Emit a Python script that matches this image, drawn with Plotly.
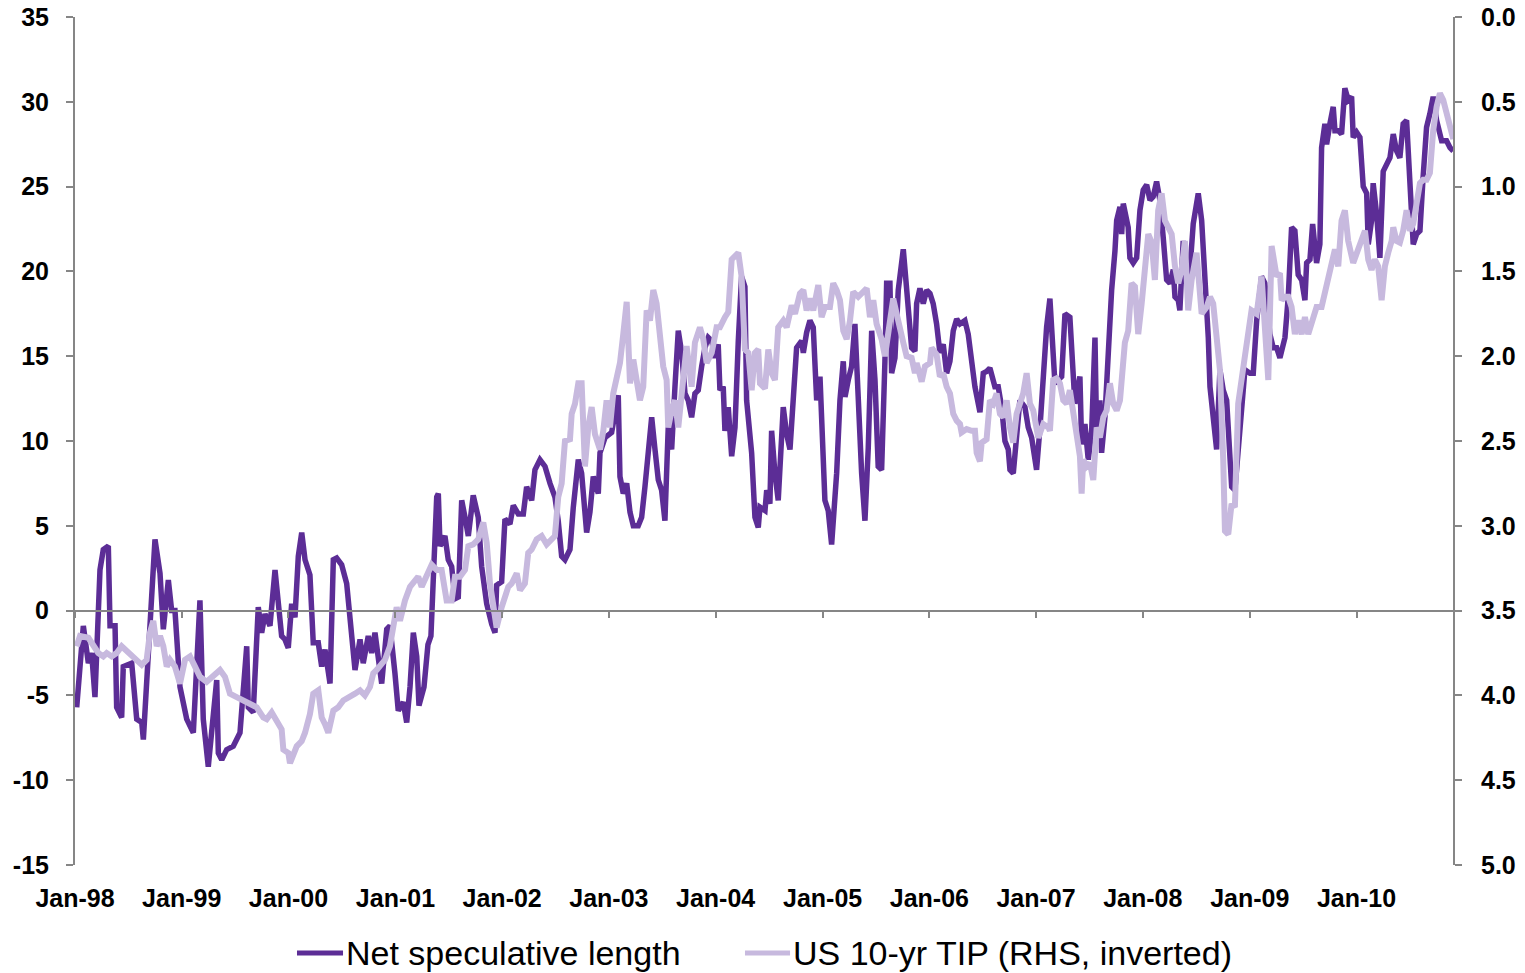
import numpy as np
import pandas as pd
import plotly.graph_objects as go

# years elapsed since Jan-98 for each reading
dark_t = [
    0.016, 0.078, 0.125, 0.156, 0.187, 0.234, 0.265, 0.312, 0.328, 0.375,
    0.390, 0.437, 0.452, 0.531, 0.578, 0.625, 0.640, 0.686, 0.749, 0.796,
    0.827, 0.874, 0.905, 0.936, 0.983, 1.046, 1.108, 1.170, 1.201, 1.248,
    1.280, 1.327, 1.342, 1.374, 1.420, 1.482, 1.545, 1.608, 1.623, 1.669,
    1.716, 1.748, 1.779, 1.826, 1.873, 1.935, 1.966, 1.997, 2.029, 2.060,
    2.091, 2.123, 2.154, 2.200, 2.231, 2.278, 2.310, 2.341, 2.388, 2.419,
    2.450, 2.497, 2.544, 2.622, 2.669, 2.699, 2.746, 2.778, 2.809, 2.872,
    2.919, 2.949, 2.996, 3.027, 3.074, 3.106, 3.137, 3.168, 3.200, 3.221,
    3.268, 3.305, 3.333, 3.355, 3.387, 3.402, 3.418, 3.464, 3.495, 3.527,
    3.558, 3.589, 3.621, 3.652, 3.683, 3.729, 3.776, 3.808, 3.855, 3.902,
    3.933, 3.948, 3.995, 4.026, 4.073, 4.104, 4.151, 4.198, 4.229, 4.276,
    4.307, 4.354, 4.401, 4.448, 4.494, 4.525, 4.557, 4.588, 4.635, 4.666,
    4.713, 4.744, 4.791, 4.822, 4.853, 4.900, 4.916, 4.963, 5.025, 5.087,
    5.103, 5.134, 5.166, 5.197, 5.228, 5.274, 5.306, 5.337, 5.368, 5.400,
    5.431, 5.462, 5.493, 5.524, 5.555, 5.587, 5.618, 5.649, 5.681, 5.712,
    5.742, 5.774, 5.805, 5.836, 5.868, 5.899, 5.930, 5.962, 5.993, 6.023,
    6.039, 6.070, 6.086, 6.117, 6.149, 6.180, 6.211, 6.242, 6.273, 6.289,
    6.336, 6.367, 6.398, 6.414, 6.461, 6.477, 6.507, 6.523, 6.554, 6.585,
    6.632, 6.664, 6.695, 6.726, 6.757, 6.804, 6.820, 6.851, 6.882, 6.913,
    6.945, 6.976, 6.991, 7.022, 7.053, 7.085, 7.132, 7.163, 7.194, 7.210,
    7.241, 7.272, 7.303, 7.334, 7.366, 7.397, 7.428, 7.460, 7.491, 7.521,
    7.553, 7.584, 7.600, 7.631, 7.647, 7.678, 7.709, 7.756, 7.787, 7.834,
    7.865, 7.881, 7.912, 7.943, 7.975, 8.006, 8.036, 8.068, 8.099, 8.130,
    8.162, 8.193, 8.224, 8.256, 8.287, 8.333, 8.364, 8.396, 8.427, 8.474,
    8.505, 8.536, 8.567, 8.614, 8.645, 8.677, 8.708, 8.739, 8.755, 8.786,
    8.817, 8.848, 8.895, 8.926, 8.958, 9.004, 9.036, 9.067, 9.098, 9.129,
    9.160, 9.176, 9.207, 9.239, 9.270, 9.316, 9.363, 9.410, 9.426, 9.457,
    9.488, 9.520, 9.551, 9.567, 9.597, 9.613, 9.644, 9.675, 9.707, 9.738,
    9.754, 9.785, 9.801, 9.816, 9.862, 9.878, 9.909, 9.941, 9.972, 10.003,
    10.035, 10.066, 10.096, 10.128, 10.159, 10.190, 10.222, 10.253, 10.284, 10.300,
    10.331, 10.346, 10.377, 10.409, 10.440, 10.471, 10.518, 10.550, 10.581, 10.612,
    10.628, 10.658, 10.690, 10.721, 10.752, 10.784, 10.831, 10.861, 10.892, 10.955,
    11.002, 11.033, 11.065, 11.111, 11.142, 11.189, 11.220, 11.252, 11.283, 11.330,
    11.361, 11.392, 11.423, 11.454, 11.486, 11.517, 11.533, 11.564, 11.589, 11.626,
    11.657, 11.673, 11.704, 11.720, 11.751, 11.782, 11.798, 11.829, 11.860, 11.891,
    11.922, 11.954, 11.969, 12.001, 12.032, 12.063, 12.095, 12.110, 12.141, 12.156,
    12.188, 12.219, 12.250, 12.282, 12.313, 12.344, 12.375, 12.406, 12.437, 12.469,
    12.500, 12.531, 12.563, 12.594, 12.624, 12.656, 12.687, 12.718, 12.750, 12.797,
    12.843, 12.875, 12.906,
]
net_spec = [
    -5.7, -0.9, -3.1, -2.5, -5.1, 2.4, 3.6, 3.8, -0.9, -0.9,
    -5.7, -6.3, -3.3, -3.1, -6.4, -6.6, -7.6, -3.1, 4.2, 2.2,
    -1.1, 1.8, 0.0, 0.0, -4.5, -6.4, -7.2, 0.6, -6.4, -9.2,
    -7.4, -4.1, -8.4, -8.8, -8.2, -8.0, -7.2, -2.1, -5.7, -6.0,
    0.2, -1.3, -0.2, -0.9, 2.4, -1.5, -1.7, -2.2, 0.4, -0.4,
    3.2, 4.6, 3.0, 2.1, -1.9, -1.9, -3.3, -2.3, -4.3, 3.0,
    3.1, 2.7, 1.6, -3.5, -1.7, -3.1, -1.5, -2.5, -1.3, -4.3,
    -1.1, -0.9, -3.7, -5.9, -5.4, -6.6, -4.5, -1.3, -2.7, -5.6,
    -4.5, -2.0, -1.5, 2.4, 6.7, 6.9, 3.8, 4.4, 3.0, 2.6,
    0.7, 0.8, 6.5, 5.5, 4.4, 6.8, 5.5, 2.6, 0.4, -0.8,
    -1.3, 1.5, 1.7, 5.4, 5.1, 6.2, 5.7, 5.7, 7.3, 6.5,
    8.3, 8.9, 8.5, 7.5, 6.7, 5.3, 3.2, 3.0, 3.6, 6.1,
    8.9, 8.1, 4.6, 5.8, 7.9, 6.9, 9.3, 10.2, 10.5, 12.7,
    7.9, 6.9, 7.5, 5.8, 5.0, 5.0, 5.5, 7.3, 9.8, 11.4,
    9.5, 7.7, 7.1, 5.3, 10.8, 9.5, 13.2, 16.5, 15.2, 12.8,
    12.4, 11.4, 12.8, 13.0, 14.4, 15.5, 16.1, 15.9, 14.9, 15.7,
    13.0, 13.2, 10.6, 12.0, 9.1, 10.8, 15.9, 19.7, 19.1, 12.4,
    9.3, 5.5, 4.9, 6.1, 5.9, 7.1, 6.3, 10.6, 8.1, 6.5,
    12.0, 10.4, 9.5, 13.2, 15.5, 15.9, 15.2, 16.4, 17.1, 16.7,
    12.4, 13.8, 11.0, 6.5, 5.9, 3.9, 8.1, 12.4, 14.7, 12.6,
    13.6, 14.4, 16.9, 11.6, 8.1, 5.3, 9.6, 16.5, 13.6, 8.5,
    8.3, 14.7, 19.3, 19.3, 14.0, 14.9, 18.9, 21.3, 18.9, 15.5,
    15.3, 18.1, 19.0, 18.1, 18.9, 18.7, 18.1, 16.9, 15.2, 15.7,
    14.0, 14.7, 16.5, 17.2, 16.9, 17.1, 16.3, 14.4, 13.2, 11.7,
    14.0, 14.1, 14.3, 13.2, 13.2, 12.0, 10.0, 9.5, 8.3, 8.1,
    10.4, 12.4, 12.0, 10.8, 10.2, 8.3, 10.8, 14.0, 16.7, 18.4,
    14.4, 13.4, 13.6, 13.8, 17.5, 17.3, 12.2, 13.8, 9.8, 11.0,
    8.9, 10.6, 16.1, 10.2, 12.4, 9.3, 11.4, 15.7, 18.9, 21.2,
    23.0, 23.8, 22.2, 24.0, 22.6, 20.8, 20.5, 20.8, 23.6, 24.8,
    25.1, 24.2, 24.4, 25.3, 24.2, 22.0, 19.5, 19.3, 20.1, 18.5,
    18.3, 17.7, 21.8, 19.3, 20.1, 22.8, 24.6, 23.0, 20.1, 16.1,
    13.2, 11.4, 9.5, 14.2, 13.0, 12.4, 7.3, 7.1, 9.3, 14.2,
    14.0, 14.0, 17.1, 19.7, 19.3, 16.3, 15.5, 15.5, 14.9, 16.1,
    18.5, 22.6, 22.4, 19.8, 19.5, 18.3, 20.5, 20.7, 22.8, 20.5,
    21.6, 27.3, 28.7, 27.5, 28.7, 29.7, 28.3, 28.3, 28.1, 30.8,
    30.1, 30.3, 27.9, 28.2, 27.9, 25.0, 24.6, 21.6, 23.0, 25.2,
    23.4, 20.8, 25.9, 26.3, 26.7, 28.1, 27.1, 26.7, 28.7, 28.9,
    25.0, 21.6, 22.2, 22.4, 25.6, 28.5, 29.3, 30.3, 28.9, 27.7,
    27.7, 27.3, 27.1,
]

tip_t = [
    0.016, 0.047, 0.125, 0.171, 0.218, 0.265, 0.297, 0.344, 0.390, 0.437,
    0.484, 0.531, 0.578, 0.625, 0.671, 0.702, 0.733, 0.765, 0.796, 0.827,
    0.859, 0.890, 0.936, 0.983, 1.030, 1.077, 1.124, 1.170, 1.233, 1.295,
    1.358, 1.404, 1.451, 1.514, 1.576, 1.639, 1.701, 1.763, 1.795, 1.842,
    1.889, 1.935, 1.951, 1.998, 2.013, 2.044, 2.076, 2.123, 2.154, 2.200,
    2.231, 2.278, 2.310, 2.341, 2.372, 2.419, 2.465, 2.512, 2.575, 2.622,
    2.669, 2.715, 2.762, 2.793, 2.825, 2.856, 2.903, 2.949, 2.980, 3.012,
    3.043, 3.090, 3.137, 3.184, 3.214, 3.246, 3.293, 3.340, 3.387, 3.433,
    3.480, 3.527, 3.558, 3.605, 3.652, 3.683, 3.729, 3.776, 3.823, 3.855,
    3.886, 3.917, 3.948, 3.995, 4.026, 4.057, 4.089, 4.136, 4.167, 4.213,
    4.244, 4.276, 4.323, 4.370, 4.417, 4.448, 4.494, 4.525, 4.557, 4.588,
    4.635, 4.651, 4.682, 4.713, 4.744, 4.775, 4.806, 4.838, 4.869, 4.916,
    4.947, 4.978, 5.009, 5.040, 5.072, 5.103, 5.134, 5.166, 5.197, 5.228,
    5.259, 5.290, 5.321, 5.353, 5.384, 5.415, 5.446, 5.478, 5.508, 5.540,
    5.555, 5.587, 5.618, 5.649, 5.681, 5.727, 5.774, 5.805, 5.852, 5.883,
    5.915, 5.962, 6.008, 6.039, 6.086, 6.117, 6.149, 6.196, 6.211, 6.242,
    6.273, 6.305, 6.336, 6.367, 6.398, 6.414, 6.461, 6.492, 6.523, 6.554,
    6.585, 6.632, 6.664, 6.711, 6.742, 6.788, 6.820, 6.851, 6.882, 6.913,
    6.960, 6.991, 7.022, 7.069, 7.100, 7.132, 7.163, 7.194, 7.226, 7.257,
    7.287, 7.334, 7.366, 7.413, 7.444, 7.475, 7.506, 7.553, 7.584, 7.615,
    7.662, 7.694, 7.725, 7.756, 7.787, 7.834, 7.865, 7.881, 7.928, 7.959,
    8.006, 8.021, 8.068, 8.099, 8.130, 8.162, 8.193, 8.224, 8.256, 8.287,
    8.302, 8.349, 8.396, 8.427, 8.443, 8.474, 8.490, 8.536, 8.567, 8.598,
    8.630, 8.661, 8.692, 8.724, 8.755, 8.786, 8.817, 8.848, 8.879, 8.911,
    8.942, 8.973, 9.020, 9.067, 9.114, 9.129, 9.160, 9.192, 9.223, 9.254,
    9.286, 9.316, 9.347, 9.379, 9.410, 9.426, 9.441, 9.473, 9.504, 9.535,
    9.567, 9.597, 9.629, 9.660, 9.691, 9.722, 9.754, 9.785, 9.816, 9.831,
    9.862, 9.894, 9.925, 9.956, 9.988, 10.019, 10.050, 10.082, 10.112, 10.143,
    10.175, 10.206, 10.237, 10.269, 10.300, 10.331, 10.362, 10.393, 10.424, 10.456,
    10.502, 10.550, 10.597, 10.628, 10.658, 10.690, 10.721, 10.752, 10.768, 10.799,
    10.830, 10.861, 10.892, 10.955, 11.017, 11.065, 11.111, 11.174, 11.205, 11.252,
    11.283, 11.299, 11.330, 11.361, 11.392, 11.423, 11.454, 11.486, 11.517, 11.548,
    11.580, 11.626, 11.673, 11.704, 11.736, 11.767, 11.798, 11.829, 11.860, 11.891,
    11.922, 11.969, 12.001, 12.032, 12.079, 12.110, 12.141, 12.172, 12.203, 12.235,
    12.266, 12.297, 12.329, 12.344, 12.375, 12.406, 12.437, 12.469, 12.500, 12.531,
    12.563, 12.594, 12.624, 12.656, 12.687, 12.718, 12.750, 12.781, 12.812, 12.843,
    12.875, 12.906,
]
tip_yield = [
    3.71, 3.65, 3.66, 3.71, 3.75, 3.77, 3.75, 3.77, 3.75, 3.71,
    3.74, 3.77, 3.79, 3.82, 3.79, 3.63, 3.56, 3.71, 3.65, 3.71,
    3.83, 3.79, 3.83, 3.93, 3.79, 3.77, 3.83, 3.89, 3.92, 3.89,
    3.85, 3.89, 3.99, 4.01, 4.03, 4.05, 4.07, 4.13, 4.14, 4.10,
    4.15, 4.20, 4.32, 4.34, 4.40, 4.36, 4.30, 4.27, 4.22, 4.11,
    3.99, 3.97, 4.13, 4.17, 4.22, 4.09, 4.07, 4.03, 4.01, 3.99,
    3.97, 4.00, 3.95, 3.87, 3.85, 3.83, 3.79, 3.71, 3.60, 3.48,
    3.56, 3.44, 3.36, 3.32, 3.30, 3.36, 3.30, 3.23, 3.26, 3.26,
    3.44, 3.44, 3.30, 3.30, 3.26, 3.12, 3.11, 3.08, 2.98, 3.10,
    3.34, 3.50, 3.60, 3.48, 3.42, 3.36, 3.34, 3.28, 3.38, 3.34,
    3.16, 3.14, 3.08, 3.06, 3.11, 3.09, 3.06, 2.83, 2.75, 2.50,
    2.49, 2.34, 2.28, 2.16, 2.16, 2.65, 2.42, 2.30, 2.46, 2.55,
    2.44, 2.26, 2.42, 2.22, 2.14, 2.04, 1.87, 1.68, 2.16, 2.02,
    2.14, 2.26, 2.18, 1.73, 1.79, 1.61, 1.69, 1.85, 2.06, 2.14,
    2.42, 2.32, 2.26, 2.42, 2.20, 1.94, 2.18, 1.92, 1.83, 1.90,
    2.04, 1.98, 1.83, 1.83, 1.77, 1.74, 1.43, 1.39, 1.39, 1.53,
    1.96, 1.98, 2.20, 1.98, 1.96, 2.16, 2.19, 1.96, 2.10, 2.14,
    1.83, 1.79, 1.83, 1.70, 1.75, 1.63, 1.61, 1.73, 1.66, 1.73,
    1.58, 1.77, 1.71, 1.71, 1.57, 1.61, 1.67, 1.85, 1.90, 1.79,
    1.62, 1.65, 1.63, 1.60, 1.77, 1.67, 1.81, 1.90, 2.00, 1.85,
    1.66, 1.75, 1.85, 1.92, 2.00, 2.01, 2.10, 2.04, 2.15, 2.06,
    2.04, 1.95, 1.99, 2.12, 2.10, 2.18, 2.22, 2.34, 2.38, 2.40,
    2.45, 2.43, 2.44, 2.44, 2.57, 2.62, 2.51, 2.49, 2.26, 2.28,
    2.22, 2.34, 2.36, 2.26, 2.42, 2.51, 2.34, 2.28, 2.22, 2.10,
    2.28, 2.32, 2.48, 2.40, 2.42, 2.44, 2.14, 2.13, 2.16, 2.26,
    2.28, 2.20, 2.34, 2.51, 2.59, 2.81, 2.61, 2.65, 2.63, 2.73,
    2.42, 2.48, 2.36, 2.32, 2.16, 2.28, 2.32, 2.26, 2.08, 1.92,
    1.85, 1.57, 1.59, 1.87, 1.69, 1.47, 1.28, 1.33, 1.55, 1.14,
    1.04, 1.20, 1.24, 1.28, 1.47, 1.57, 1.49, 1.32, 1.73, 1.55,
    1.39, 1.75, 1.71, 1.65, 1.69, 1.89, 2.08, 2.61, 3.03, 3.05,
    2.87, 2.89, 2.28, 2.00, 1.73, 1.75, 1.53, 2.14, 1.35, 1.53,
    1.51, 1.67, 1.65, 1.65, 1.71, 1.87, 1.79, 1.87, 1.77, 1.87,
    1.79, 1.71, 1.71, 1.63, 1.53, 1.43, 1.37, 1.47, 1.20, 1.14,
    1.32, 1.45, 1.39, 1.35, 1.26, 1.43, 1.49, 1.43, 1.47, 1.67,
    1.47, 1.39, 1.32, 1.24, 1.32, 1.33, 1.26, 1.14, 1.26, 1.22,
    1.12, 0.98, 0.96, 0.96, 0.92, 0.67, 0.53, 0.45, 0.49, 0.57,
    0.65, 0.72,
]

year_ticks = [f"{y}-01-01" for y in range(1998, 2011)]
left_ticks = [-15, -10, -5, 0, 5, 10, 15, 20, 25, 30, 35]
left_labels = ["-15", "-10", "-5", "0", "5", "10", "15", "20", "25", "30", "35"]
right_ticks = [0.0, 0.5, 1.0, 1.5, 2.0, 2.5, 3.0, 3.5, 4.0, 4.5, 5.0]

start = pd.Timestamp("1998-01-01")
dark_dates = start + pd.to_timedelta(np.array(dark_t) * 365.25, unit="D")
tip_dates = start + pd.to_timedelta(np.array(tip_t) * 365.25, unit="D")

DARK = "#5C2D96"
LIGHT = "#C7B9DE"
AXIS = "#868686"
x_range = ["1998-01-01", "2010-11-27"]
tick_font = dict(family="Liberation Sans, Arial, sans-serif", size=25,
                 color="black", weight="bold")

fig = go.Figure()
fig.add_trace(go.Scatter(x=dark_dates, y=net_spec, mode="lines",
                         line=dict(color=DARK, width=5.5),
                         name="Net speculative length"))
# the TIP line sits on the second x axis (the one drawn along zero)
fig.add_trace(go.Scatter(x=tip_dates, y=tip_yield, mode="lines",
                         line=dict(color=LIGHT, width=6),
                         xaxis="x2", yaxis="y2",
                         name="US 10-yr TIP (RHS, inverted)"))

fig.update_layout(
    width=1525, height=973,
    margin=dict(l=75, r=72, t=17, b=108),
    plot_bgcolor="white", paper_bgcolor="white",
    showlegend=False,
    xaxis=dict(type="date", range=x_range, tickvals=year_ticks,
               tickformat="%b-%y", showline=False, showgrid=False,
               zeroline=False, ticks="", tickfont=tick_font,
               ticklabelstandoff=16, automargin=False),
    xaxis2=dict(type="date", range=x_range, overlaying="x", anchor="free",
                position=0.3, tickvals=year_ticks, showticklabels=False,
                showline=True, linecolor=AXIS, linewidth=2,
                ticks="outside", ticklen=6, tickwidth=2, tickcolor=AXIS,
                showgrid=False, zeroline=False, automargin=False),
    yaxis=dict(range=[-15, 35], tickvals=left_ticks, ticktext=left_labels,
               showline=True, linecolor=AXIS, linewidth=2, ticks="outside",
               ticklen=7, tickwidth=2, tickcolor=AXIS, showgrid=False,
               zeroline=False, tickfont=tick_font, ticklabelstandoff=12,
               automargin=False),
    yaxis2=dict(range=[5, 0], tickvals=right_ticks, tickformat=".1f",
                overlaying="y", side="right", anchor="x", showline=True,
                linecolor=AXIS, linewidth=2, ticks="outside", ticklen=7,
                tickwidth=2, tickcolor=AXIS, showgrid=False, zeroline=False,
                tickfont=tick_font, ticklabelstandoff=14, automargin=False),
)

# legend drawn below the plot, as in the original
legend_font = dict(family="Liberation Sans, Arial, sans-serif", size=34,
                   color="black")
legend_items = [("Net speculative length", DARK, 0.1611, 0.1945),
                ("US 10-yr TIP (RHS, inverted)", LIGHT, 0.4862, 0.5189)]
for label, color, x0, x1 in legend_items:
    fig.add_shape(type="line", xref="paper", yref="paper",
                  x0=x0, x1=x1, y0=-0.1038, y1=-0.1038,
                  line=dict(color=color, width=5))
    fig.add_annotation(text=label, xref="paper", yref="paper",
                       x=x1 + 0.001, y=-0.1038, xanchor="left",
                       yanchor="middle", showarrow=False, font=legend_font)

fig.write_html("out.html", config={"displayModeBar": False},
               post_script="document.body.style.margin = '0';")
